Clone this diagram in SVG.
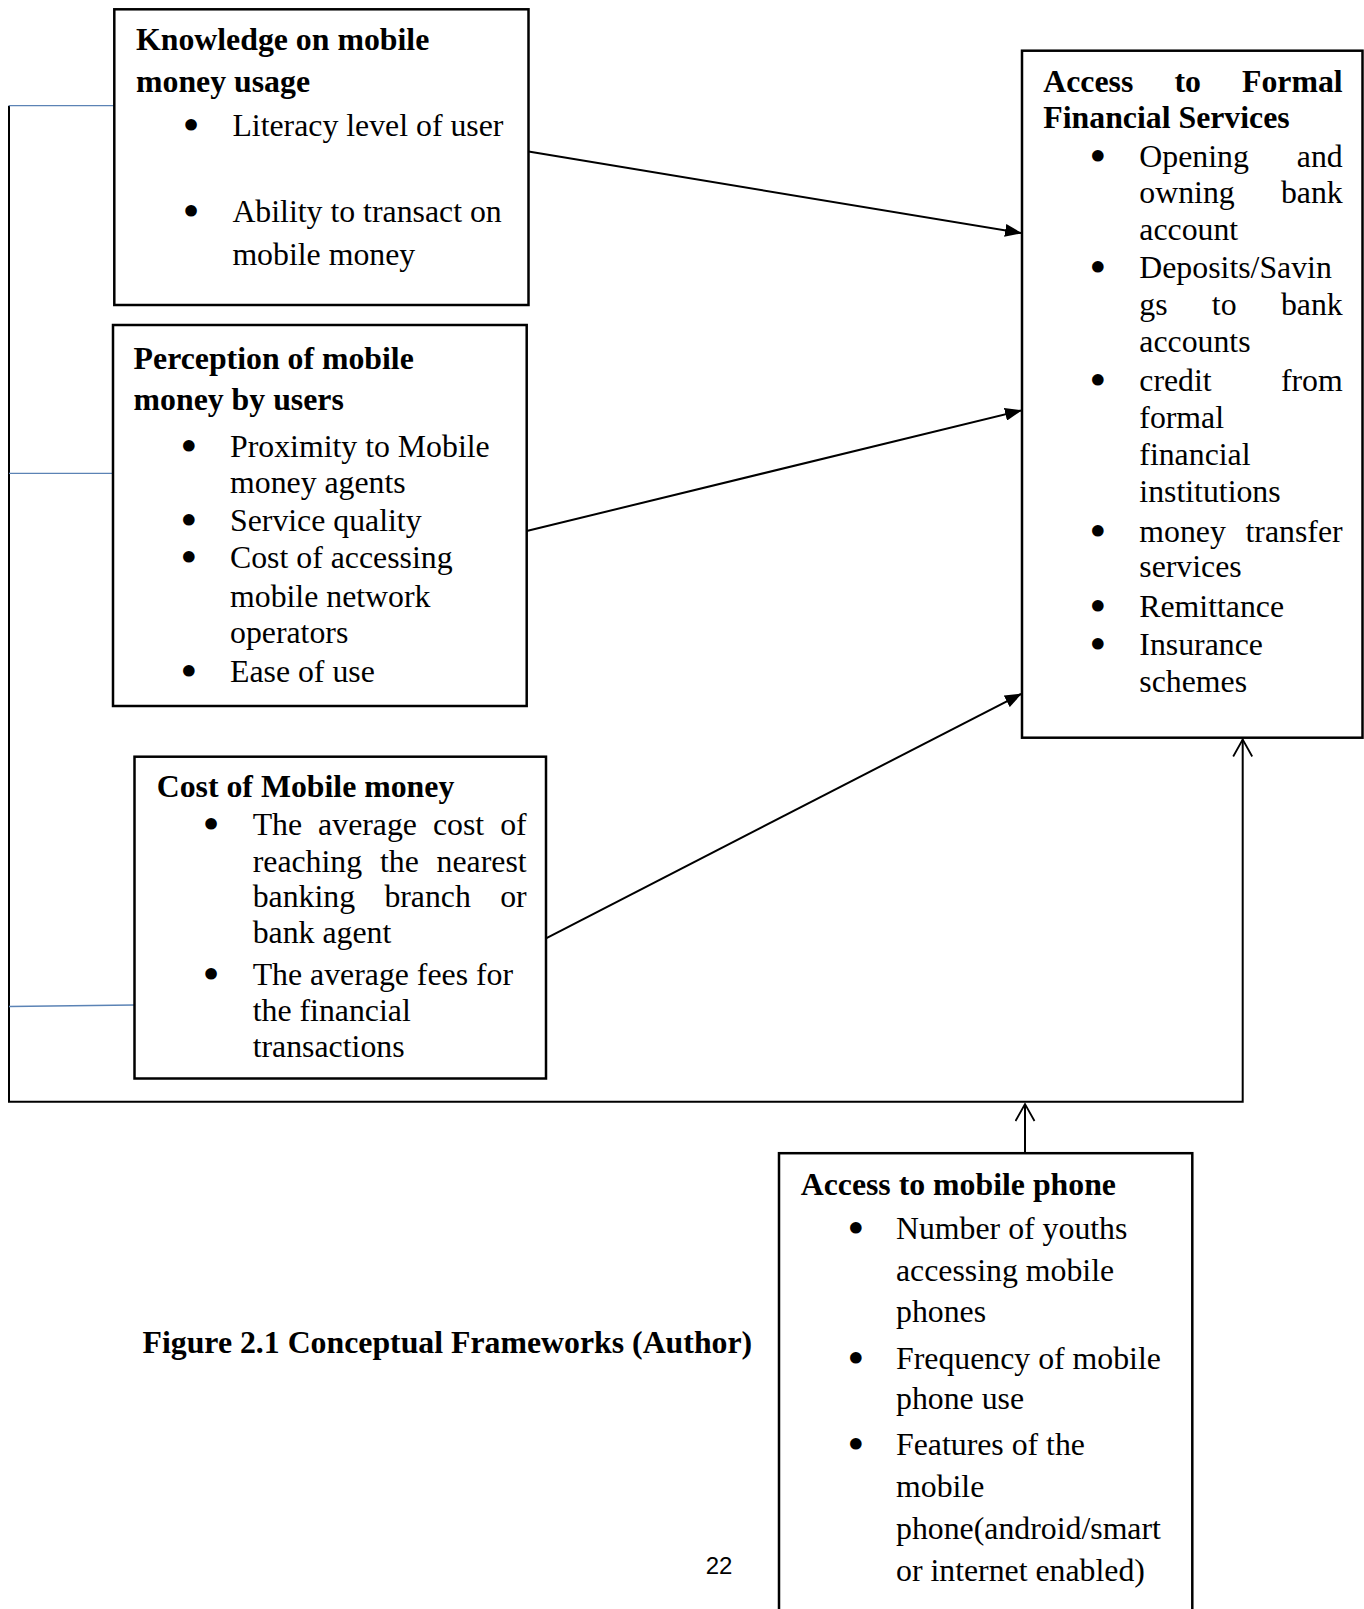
<svg xmlns="http://www.w3.org/2000/svg" width="1364" height="1609" viewBox="0 0 1364 1609">
<style>
.box{fill:#fff;stroke:#000;stroke-width:2.5}
.h{font-family:"Liberation Serif","Times New Roman",serif;font-size:31.8px;font-weight:bold;fill:#000}
.t{font-family:"Liberation Serif","Times New Roman",serif;font-size:31.8px;fill:#000}
.bu{font-family:"Liberation Serif","Times New Roman",serif;font-size:31.8px;fill:#000;stroke:#000;stroke-width:4;stroke-linejoin:round;text-anchor:middle}
.ln{fill:none;stroke:#000;stroke-width:2}
.bl{fill:none;stroke:#5b83b5;stroke-width:1.3}
</style>
<defs>
<marker id="fa" markerUnits="userSpaceOnUse" markerWidth="17" markerHeight="13" refX="16" refY="6.5" orient="auto">
<path d="M0,0 L17,6.5 L0,13 z" fill="#000"/>
</marker>
<marker id="oa" markerUnits="userSpaceOnUse" markerWidth="20" markerHeight="22" refX="18" refY="10.5" orient="auto">
<path d="M1,1 L18,10.5 L1,20" fill="none" stroke="#000" stroke-width="1.8"/>
</marker>
</defs>
<rect width="1364" height="1609" fill="#fff"/>
<g id="connectors">
<path class="ln" d="M9,105.7 V1101.7 H1242.7 V739.5" marker-end="url(#oa)"/>
<path class="bl" d="M9,105.7 H114.3"/>
<path class="bl" d="M9,473.3 H113"/>
<path class="bl" d="M9,1006.5 L134.5,1005"/>
<path class="ln" d="M528.5,151.5 L1021,233" marker-end="url(#fa)"/>
<path class="ln" d="M526.7,531 L1021,410.5" marker-end="url(#fa)"/>
<path class="ln" d="M546,938.3 L1021,694" marker-end="url(#fa)"/>
<path class="ln" d="M1025,1153 V1104" marker-end="url(#oa)"/>
</g>
<g id="knowledge">
<rect class="box" x="114.3" y="9.3" width="414.2" height="295.7"/>
<text class="h" x="136" y="50">Knowledge on mobile</text>
<text class="h" x="136" y="91.7">money usage</text>
<text class="bu" x="191" y="136">•</text>
<text class="t" x="232.4" y="136">Literacy level of user</text>
<text class="bu" x="191" y="221.7">•</text>
<text class="t" x="232.4" y="221.7">Ability to transact on</text>
<text class="t" x="232.4" y="265">mobile money</text>
</g>
<g id="perception">
<rect class="box" x="113" y="325" width="413.7" height="381"/>
<text class="h" x="133.6" y="369.3">Perception of mobile</text>
<text class="h" x="133.6" y="410">money by users</text>
<text class="bu" x="188.7" y="456.7">•</text>
<text class="t" x="230" y="456.7">Proximity to Mobile</text>
<text class="t" x="230" y="492.7">money agents</text>
<text class="bu" x="188.7" y="530.7">•</text>
<text class="t" x="230" y="530.7">Service quality</text>
<text class="bu" x="188.7" y="568.3">•</text>
<text class="t" x="230" y="568.3">Cost of accessing</text>
<text class="t" x="230" y="606.7">mobile network</text>
<text class="t" x="230" y="643.3">operators</text>
<text class="bu" x="188.7" y="681.7">•</text>
<text class="t" x="230" y="681.7">Ease of use</text>
</g>
<g id="cost">
<rect class="box" x="134.5" y="756.7" width="411.5" height="321.8"/>
<text class="h" x="156.7" y="796.7">Cost of Mobile money</text>
<text class="bu" x="211" y="835">•</text>
<text class="t" x="252.7" y="835" word-spacing="8.05">The average cost of</text>
<text class="t" x="252.7" y="871.7" word-spacing="9.85">reaching the nearest</text>
<text class="t" x="252.7" y="907.3" word-spacing="21.3">banking branch or</text>
<text class="t" x="252.7" y="943.3">bank agent</text>
<text class="bu" x="211" y="985">•</text>
<text class="t" x="252.7" y="985">The average fees for</text>
<text class="t" x="252.7" y="1020.7">the financial</text>
<text class="t" x="252.7" y="1056.7">transactions</text>
</g>
<g id="access-formal">
<rect class="box" x="1022" y="50.7" width="340.5" height="687"/>
<text class="h" x="1043.3" y="91.7" word-spacing="33.15">Access to Formal</text>
<text class="h" x="1043.3" y="128.3">Financial Services</text>
<text class="bu" x="1097.7" y="166.7">•</text>
<text class="t" x="1139.3" y="166.7" word-spacing="40.05">Opening and</text>
<text class="t" x="1139.3" y="203.3" word-spacing="38.25">owning bank</text>
<text class="t" x="1139.3" y="240">account</text>
<text class="bu" x="1097.7" y="278.3">•</text>
<text class="t" x="1139.3" y="278.3">Deposits/Savin</text>
<text class="t" x="1139.3" y="315" word-spacing="36.35">gs to bank</text>
<text class="t" x="1139.3" y="351.7">accounts</text>
<text class="bu" x="1097.7" y="390.5">•</text>
<text class="t" x="1139.3" y="390.5" word-spacing="61.25">credit from</text>
<text class="t" x="1139.3" y="428.3">formal</text>
<text class="t" x="1139.3" y="465">financial</text>
<text class="t" x="1139.3" y="501.7">institutions</text>
<text class="bu" x="1097.7" y="541.7">•</text>
<text class="t" x="1139.3" y="541.7" word-spacing="11.75">money transfer</text>
<text class="t" x="1139.3" y="576.7">services</text>
<text class="bu" x="1097.7" y="616.7">•</text>
<text class="t" x="1139.3" y="616.7">Remittance</text>
<text class="bu" x="1097.7" y="655">•</text>
<text class="t" x="1139.3" y="655">Insurance</text>
<text class="t" x="1139.3" y="691.7">schemes</text>
</g>
<g id="access-phone">
<rect class="box" x="779" y="1153.2" width="413.3" height="470"/>
<text class="h" x="800.7" y="1194.7">Access to mobile phone</text>
<text class="bu" x="855.7" y="1238.6">•</text>
<text class="t" x="896" y="1238.6">Number of youths</text>
<text class="t" x="896" y="1280.7">accessing mobile</text>
<text class="t" x="896" y="1322.2">phones</text>
<text class="bu" x="855.7" y="1368.5">•</text>
<text class="t" x="896" y="1368.5">Frequency of mobile</text>
<text class="t" x="896" y="1409">phone use</text>
<text class="bu" x="855.7" y="1454.5">•</text>
<text class="t" x="896" y="1454.5">Features of the</text>
<text class="t" x="896" y="1496.7">mobile</text>
<text class="t" x="896" y="1538.8">phone(android/smart</text>
<text class="t" x="896" y="1581">or internet enabled)</text>
</g>
<g id="caption">
<text class="h" x="142.5" y="1353">Figure 2.1 Conceptual Frameworks (Author)</text>
<text x="719" y="1574" font-family="Liberation Sans, Arial, sans-serif" font-size="24" text-anchor="middle" fill="#000">22</text>
</g>
</svg>
